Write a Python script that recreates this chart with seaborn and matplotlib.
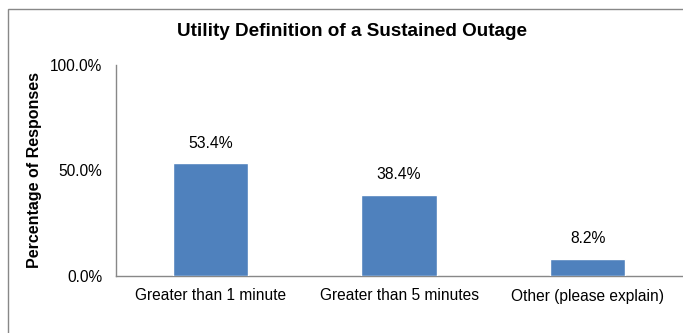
import matplotlib
matplotlib.use("Agg")
import matplotlib.pyplot as plt
import seaborn as sns
import pandas as pd
from matplotlib.patches import Rectangle
from matplotlib.ticker import FuncFormatter

categories = ["Greater than 1 minute", "Greater than 5 minutes", "Other (please explain)"]
percentages = [53.4, 38.4, 8.2]
y_ticks = [0, 50, 100]

sns.set_style("white")
plt.rcParams["font.family"] = ["Liberation Sans", "DejaVu Sans"]

df = pd.DataFrame({"category": categories, "pct": percentages})

W, H = 683, 333
fig = plt.figure(figsize=(W / 100, H / 100), dpi=100)
ax = fig.add_axes([116 / W, 1 - 276 / H, (682 - 116) / W, (276 - 65) / H])

sns.barplot(data=df, x="category", y="pct", color="#4F81BD", width=0.4,
            saturation=1, ax=ax, zorder=3)

ax.set_xlim(-0.5, 2.5)
ax.set_ylim(0, 100)
ax.set_yticks(y_ticks)
ax.yaxis.set_major_formatter(FuncFormatter(lambda v, _: f"{v:.1f}%"))
ax.set_xticks([0, 1, 2])
ax.set_xticklabels(categories)
ax.tick_params(axis="both", labelsize=11.2, colors="#000000", labelcolor="#000000",
               length=0)
ax.tick_params(axis="y", pad=10)
ax.tick_params(axis="x", pad=9)
# category separators on the x axis
ax.set_xticks([0.5, 1.5, 2.5], minor=True)
ax.tick_params(axis="x", which="minor", length=4, color="#888888", width=1)

for s in ["top", "right"]:
    ax.spines[s].set_visible(False)
for s in ["left", "bottom"]:
    ax.spines[s].set_color("#888888")
    ax.spines[s].set_linewidth(1)

ax.set_xlabel("")
ax.set_ylabel("Percentage of Responses", fontsize=11.5, fontweight="bold",
              color="#000000", labelpad=5.5)

for i, v in enumerate(percentages):
    ax.annotate(f"{v:.1f}%", (i, v), xytext=(0, 9), textcoords="offset points",
                ha="center", va="bottom", fontsize=11.3, color="#000000")

fig.text(352 / W, 1 - 31 / H, "Utility Definition of a Sustained Outage",
         ha="center", va="center", fontsize=13.6, fontweight="bold", color="#000000")

fig.patches.append(Rectangle((8 / W, -0.1), 1.0, 1 - 9 / H + 0.1,
                             transform=fig.transFigure, fill=False,
                             edgecolor="#888888", linewidth=1))

fig.savefig("out.png", dpi=100)
